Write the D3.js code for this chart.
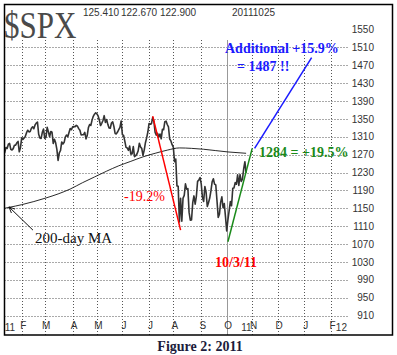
<!DOCTYPE html>
<html><head><meta charset="utf-8">
<script src="https://cdn.jsdelivr.net/npm/d3@7"></script>
<style>body{margin:0;background:#fff}svg{display:block}</style>
</head><body>
<svg id="c" width="397" height="355"></svg>
<script>
// ---------------- data ----------------
const symbol = "$SPX";
const headerValues = ["125.410", "122.670", "122.900"];
const headerDate = "20111025";
const caption = "Figure 2: 2011";

const yTicks = [910, 950, 990, 1030, 1070, 1110, 1150, 1190, 1230, 1270, 1310, 1350, 1390, 1430, 1470, 1510, 1550];

// month ticks, x in trading-day index (0 = 1 Feb 2011)
const monthLabels = ["F", "M", "A", "M", "J", "J", "A", "S", "O", "N", "D", "J", "F"];
const monthIndex  = [0, 19, 42, 62, 83, 105, 125, 148, 169, 190, 211, 233, 255];
const yearLabels = ["11", "11", "12"];
const yearIndex  = [-14, 181, 259];
const markerIndex = 169; // solid vertical line (October)

// daily closes from 7 Jan 2011 (index -16) to 25 Oct 2011
const firstIndex = -16;
const closes = [
  1271.5, 1269.8, 1274.5, 1286.0, 1283.8, 1293.2, 1295.0, 1281.9, 1280.3, 1283.4, 1290.8, 1291.2, 1296.6, 1299.5, 1276.3, 1286.1,
  1307.6, 1304.0, 1307.1, 1310.9, 1319.1, 1324.6, 1320.9, 1321.9, 1329.2, 1332.3, 1328.0, 1336.3, 1340.4, 1343.0, 1315.4, 1307.4, 1306.1, 1319.9, 1327.2,
  1306.3, 1308.4, 1331.0, 1321.2, 1310.1, 1321.8, 1320.0, 1295.1, 1304.3, 1296.4, 1281.9, 1256.9, 1273.7, 1279.2, 1298.4, 1293.8, 1297.5, 1309.7, 1313.8, 1310.2, 1319.4, 1328.3, 1325.8,
  1332.4, 1332.9, 1332.6, 1335.5, 1333.5, 1328.2, 1324.5, 1314.2, 1314.4, 1314.5, 1319.7, 1305.1, 1312.6, 1330.4, 1337.4, 1335.3, 1347.2, 1355.7, 1360.5, 1363.6,
  1361.2, 1356.6, 1347.3, 1335.1, 1340.2, 1346.3, 1357.2, 1342.1, 1348.7, 1337.8, 1329.5, 1329.0, 1340.7, 1343.6, 1333.3, 1317.4, 1316.3, 1320.5, 1325.7, 1331.1, 1345.2,
  1314.6, 1312.9, 1300.2, 1286.2, 1284.9, 1279.6, 1289.0, 1271.0, 1271.8, 1287.9, 1265.4, 1267.6, 1271.5, 1278.4, 1295.5, 1287.1, 1283.5, 1268.5, 1280.1, 1296.7, 1307.4, 1320.6,
  1339.7, 1337.9, 1339.2, 1353.2, 1343.8, 1319.5, 1313.6, 1317.7, 1308.9, 1316.1, 1305.4, 1326.7, 1325.8, 1343.8, 1345.0, 1337.4, 1331.9, 1304.9, 1300.7, 1292.3,
  1286.9, 1254.1, 1260.3, 1200.1, 1199.4, 1119.5, 1172.5, 1120.8, 1172.6, 1178.8, 1204.5, 1192.8, 1193.9, 1140.7, 1123.5, 1123.8, 1162.4, 1177.6, 1159.3, 1176.8, 1210.1, 1212.9, 1218.9,
  1204.4, 1174.0, 1165.2, 1198.6, 1185.9, 1154.2, 1162.3, 1172.9, 1188.7, 1209.1, 1216.0, 1204.1, 1202.1, 1166.8, 1129.6, 1136.4, 1163.0, 1175.4, 1151.1, 1160.4, 1131.4,
  1099.2, 1124.0, 1144.0, 1165.0, 1155.5, 1194.9, 1195.5, 1207.3, 1203.7, 1224.6, 1200.9, 1225.4, 1209.9, 1215.4, 1238.3, 1254.2, 1229.1
];

// 200-day moving average
const maIndex  = [-14, -5, 0, 10, 20, 30, 40, 50, 60, 70, 80, 90, 100, 110, 120, 130, 140, 150, 160, 170, 180, 185];
const maValues = [1150, 1155, 1158, 1165, 1173, 1182, 1193, 1207, 1220, 1233, 1245, 1255, 1265, 1273, 1280, 1285, 1284, 1282, 1279, 1276, 1274, 1273];

// annotation lines [index, value]
const declineLine = [[108, 1356], [131, 1101]];   // red  -19.2%
const rallyLine   = [[170, 1075], [190, 1284]];   // green +19.5%
const targetLine  = [[192, 1284], [239, 1487]];   // blue +15.9%
const maArrow     = [[9.3, 1101], [-10.5, 1153]];

// ---------------- drawing ----------------
const svg = d3.select("#c");
const L = 4.5, T = 4.5, R = 392.5, B = 335;
const sans = "Liberation Sans, Arial, sans-serif";
const serif = "Liberation Serif, Times New Roman, serif";

const x = d3.scaleLinear().domain([0, 169]).range([21.7, 226.7]);
const y = d3.scaleLinear().domain([910, 1550]).range([315.5, 29.5]);

svg.append("defs").append("clipPath").attr("id", "clip")
  .append("rect").attr("x", L).attr("y", T).attr("width", R - L).attr("height", B - T);
svg.select("defs").append("marker").attr("id", "arr")
  .attr("viewBox", "0 0 10 10").attr("refX", 9).attr("refY", 5)
  .attr("markerWidth", 7).attr("markerHeight", 7).attr("orient", "auto")
  .append("path").attr("d", "M0,1 L9,5 L0,9").attr("fill", "none").attr("stroke", "#111").attr("stroke-width", 1.3);

// header
svg.append("text").attr("transform", "translate(4,38) scale(1,1.2)")
  .attr("font-family", serif).attr("font-size", 31)
  .attr("fill", "#4a4a4a").text(symbol);
const headerX = [83, 121, 160];
svg.append("g").selectAll("text").data(headerValues).join("text")
  .attr("x", (d, i) => headerX[i]).attr("y", 16)
  .attr("font-family", sans).attr("font-size", 10).attr("fill", "#333").text(d => d);
svg.append("text").attr("x", 232).attr("y", 16)
  .attr("font-family", sans).attr("font-size", 10).attr("fill", "#333").text(headerDate);

// grid
const grid = svg.append("g");
grid.selectAll("line.h").data(yTicks.filter(v => v <= 1510)).join("line")
  .attr("x1", L).attr("x2", 349).attr("y1", d => Math.round(y(d)) + 0.5).attr("y2", d => Math.round(y(d)) + 0.5)
  .attr("stroke", "#555").attr("stroke-width", 1).attr("stroke-dasharray", "1,2");
grid.selectAll("line.v").data(monthIndex).join("line")
  .attr("x1", d => Math.round(x(d)) + 0.5).attr("x2", d => Math.round(x(d)) + 0.5)
  .attr("y1", 40).attr("y2", B)
  .attr("stroke", "#555").attr("stroke-width", 1).attr("stroke-dasharray", "1,2");
svg.append("line")
  .attr("x1", Math.round(x(markerIndex)) + 0.5).attr("x2", Math.round(x(markerIndex)) + 0.5)
  .attr("y1", 40).attr("y2", B).attr("stroke", "#999").attr("stroke-width", 1);

// right axis
const yAxis = svg.append("g").attr("transform", "translate(374,0)")
  .call(d3.axisLeft(y).tickValues(yTicks).tickSize(0).tickPadding(0).tickFormat(d3.format("d")));
yAxis.select(".domain").remove();
yAxis.selectAll("text").attr("font-family", sans).attr("font-size", 10).attr("fill", "#333");

// bottom month axis (inside frame)
const xAxis = svg.append("g").attr("transform", "translate(1,322)")
  .call(d3.axisBottom(x).tickValues(monthIndex).tickSize(0).tickPadding(0)
    .tickFormat((d, i) => monthLabels[i]));
xAxis.select(".domain").remove();
xAxis.selectAll("text").attr("font-family", sans).attr("font-size", 10).attr("fill", "#333");
svg.append("g").selectAll("text").data(yearLabels).join("text")
  .attr("x", (d, i) => x(yearIndex[i])).attr("y", 331)
  .attr("font-family", sans).attr("font-size", 10).attr("fill", "#333")
  .text(d => d);

// series
const plot = svg.append("g").attr("clip-path", "url(#clip)");
const line = d3.line().x(d => x(d[0])).y(d => y(d[1]));
const priceData = closes.map((v, i) => [firstIndex + i, v]);
plot.append("path").datum(priceData).attr("d", line)
  .attr("fill", "none").attr("stroke", "#333").attr("stroke-width", 1.6).attr("stroke-linejoin", "round");
const maData = maIndex.map((d, i) => [d, maValues[i]]);
plot.append("path").datum(maData).attr("d", line.curve(d3.curveMonotoneX))
  .attr("fill", "none").attr("stroke", "#111").attr("stroke-width", 0.9);
line.curve(d3.curveLinear);

plot.append("path").datum(declineLine).attr("d", line).attr("stroke", "#ff0000").attr("stroke-width", 1.5).attr("fill", "none");
plot.append("path").datum(rallyLine).attr("d", line).attr("stroke", "#1a8a1a").attr("stroke-width", 1.5).attr("fill", "none");
plot.append("path").datum(targetLine).attr("d", line).attr("stroke", "#1a1aff").attr("stroke-width", 1.5).attr("fill", "none");
plot.append("path").datum(maArrow).attr("d", line).attr("stroke", "#111").attr("stroke-width", 1).attr("fill", "none")
  .attr("marker-end", "url(#arr)");

// annotation texts
function note(t, px, py, color, size, weight) {
  svg.append("text").attr("x", px).attr("y", py).attr("font-family", serif)
    .attr("font-size", size).attr("font-weight", weight).attr("fill", color).text(t);
}
note("-19.2%", 124, 201, "#ff0000", 14, "normal");
note("200-day MA", 35, 243, "#111", 15, "normal");
note("10/3/11", 215, 267, "#ff0000", 14, "bold");
note("1284 = +19.5%", 259, 157, "#1a8a1a", 14, "bold");
note("Additional +15.9%", 225, 53, "#1a1aff", 14, "bold");
note("= 1487 !!", 237, 71, "#1a1aff", 14, "bold");

// frame
svg.append("rect").attr("x", L).attr("y", T).attr("width", R - L).attr("height", B - T)
  .attr("fill", "none").attr("stroke", "#000").attr("stroke-width", 1.5);

// caption
svg.append("text").attr("x", 200).attr("y", 351).attr("text-anchor", "middle")
  .attr("font-family", serif).attr("font-size", 14).attr("font-weight", "bold").attr("fill", "#1c1c3c")
  .text(caption);
</script>
</body></html>
